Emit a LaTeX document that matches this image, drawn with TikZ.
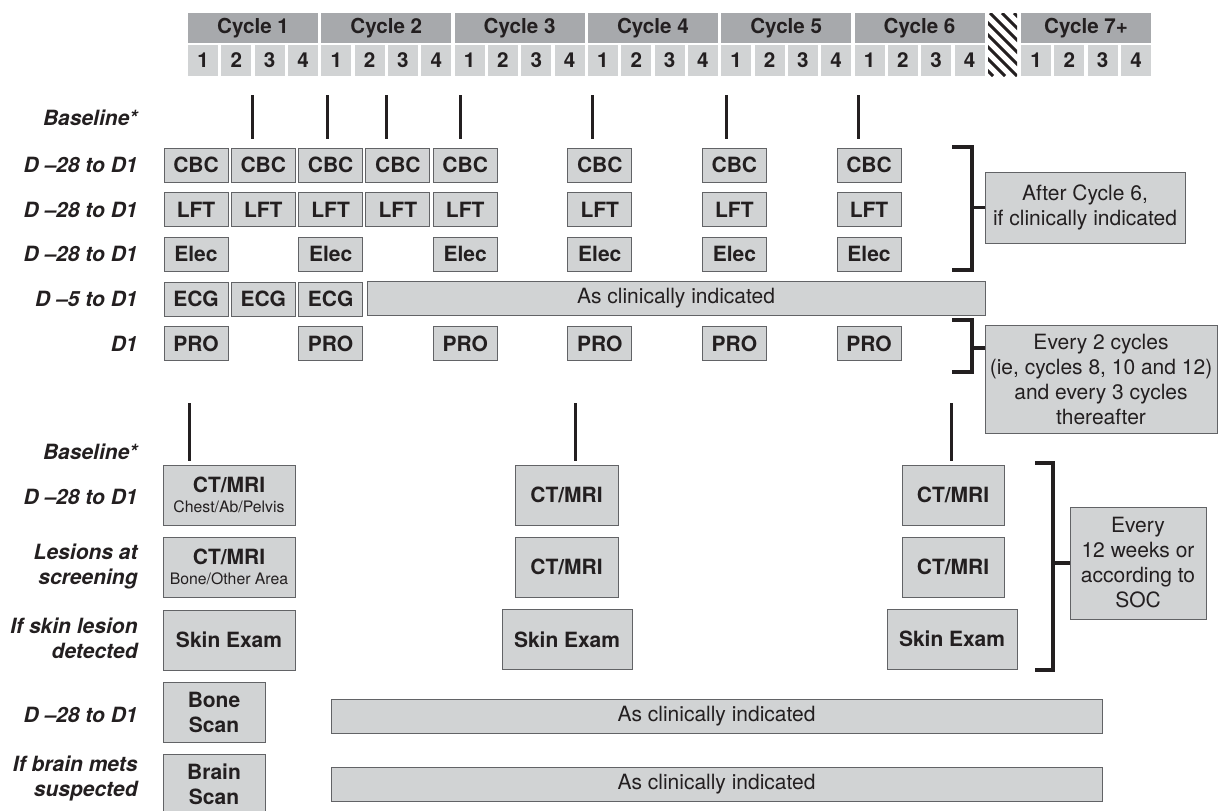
\documentclass[tikz,border=0pt]{standalone}
\usepackage{fontspec}
\setmainfont{TeX Gyre Heros}
\usetikzlibrary{positioning}

\definecolor{hdrgray}{HTML}{A7A9AC}
\definecolor{wkgray}{HTML}{D1D3D4}
\definecolor{boxline}{HTML}{626366}
\definecolor{ink}{HTML}{231F20}

\tikzset{
  cyc/.style={rectangle, fill=hdrgray, minimum width=65pt, minimum height=15pt, inner sep=0pt, font=\bfseries\fontsize{10.3}{12}\selectfont},
  wk/.style={rectangle, fill=wkgray, minimum width=15pt, minimum height=15.5pt, inner sep=0pt, font=\bfseries\fontsize{10.3}{12}\selectfont},
  task/.style={rectangle, draw=boxline, fill=wkgray, line width=0.5pt, minimum width=32pt, minimum height=17pt, inner sep=0pt, align=center, font=\bfseries\fontsize{10.5}{12.5}\selectfont},
  bigtask/.style={task, minimum height=30pt},
  note/.style={task, font=\fontsize{10.5}{12.5}\selectfont},
  rowlabel/.style={anchor=east, align=right, inner sep=0pt, font=\bfseries\itshape\fontsize{10.5}{12.5}\selectfont},
  tick/.style={line width=1.5pt, draw=ink},
  brace/.style={line width=1.8pt, draw=ink},
  small/.style={}
}
\newcommand{\subtxt}[1]{{\mdseries\fontsize{7.9}{9}\selectfont #1}}

\begin{document}
\begin{tikzpicture}[x=0.5pt, y=-0.5pt, node distance=22.35pt and 33.65pt, on grid, every node/.append style={text=ink}]

    \useasboundingbox (0,0) rectangle (1219,810);

    % header
    \node[cyc] (C1) at (253,28) {Cycle 1};
    \node[cyc] (C2) [right=66.65pt of C1] {Cycle 2};
    \node[cyc] (C3) [right=66.65pt of C2] {Cycle 3};
    \node[cyc] (C4) [right=66.65pt of C3] {Cycle 4};
    \node[cyc] (C5) [right=66.65pt of C4] {Cycle 5};
    \node[cyc] (C6) [right=66.65pt of C5] {Cycle 6};
    \node[cyc] (C7) at (1086,28) {Cycle 7+};

    \foreach \c in {1,...,6}
      \foreach \w in {1,...,4}
        \node[wk] (W\c-\w) at ({203+133.3*(\c-1)+33.33*(\w-1)},60.5) {\w};
    \foreach \w in {1,...,4}
      \node[wk] (W7-\w) at ({1036+33.33*(\w-1)},60.5) {\w};

    \begin{scope}
      \clip (988,13) rectangle (1017,76);
      \foreach \s in {-70,-58,...,30}
        \draw[line width=1.5pt, ink] ({988+\s},13) -- ++(63,63);
    \end{scope}

    % row labels, upper part
    \node[rowlabel] (L0) at (138,118) {Baseline*};
    \node[rowlabel] (L1) at (138,165) {D --28 to D1};
    \node[rowlabel] (L2) at (138,210) {D --28 to D1};
    \node[rowlabel] (L3) at (138,254) {D --28 to D1};
    \node[rowlabel] (L4) at (138,299) {D --5 to D1};
    \node[rowlabel] (L5) at (138,344) {D1};

    \foreach \x [count=\i] in {252,327,386,460,592,726,858} {
      \coordinate (top\i) at (\x,95);
      \coordinate (bot\i) at (\x,139);
      \draw[tick] (top\i) -- (bot\i);
    }

    % labs
    \node[task] (CBC1) at (196,165)               {CBC};
    \node[task] (CBC2) [right=of CBC1]            {CBC};
    \node[task] (CBC3) [right=of CBC2]            {CBC};
    \node[task] (CBC4) [right=of CBC3]            {CBC};
    \node[task] (CBC5) [right=of CBC4]            {CBC};
    \node[task] (CBC6) [right=67.3pt of CBC5]     {CBC};
    \node[task] (CBC7) [right=67.3pt of CBC6]     {CBC};
    \node[task] (CBC8) [right=67.3pt of CBC7]     {CBC};

    \node[task] (LFT1) [below=of CBC1] {LFT};
    \node[task] (LFT2) [below=of CBC2] {LFT};
    \node[task] (LFT3) [below=of CBC3] {LFT};
    \node[task] (LFT4) [below=of CBC4] {LFT};
    \node[task] (LFT5) [below=of CBC5] {LFT};
    \node[task] (LFT6) [below=of CBC6] {LFT};
    \node[task] (LFT7) [below=of CBC7] {LFT};
    \node[task] (LFT8) [below=of CBC8] {LFT};

    \node[task] (Elec1) [below=of LFT1] {Elec};
    \node[task] (Elec3) [below=of LFT3] {Elec};
    \node[task] (Elec5) [below=of LFT5] {Elec};
    \node[task] (Elec6) [below=of LFT6] {Elec};
    \node[task] (Elec7) [below=of LFT7] {Elec};
    \node[task] (Elec8) [below=of LFT8] {Elec};

    \node[task] (ECG1) [below=of Elec1]        {ECG};
    \node[task] (ECG2) [below=44.7pt of LFT2]  {ECG};
    \node[task] (ECG3) [below=of Elec3]        {ECG};
    \node[note, minimum width=309pt, minimum height=17pt] (ECGbar) at (676,298.5) {As clinically indicated};

    \node[task] (PRO1) [below=of ECG1]          {PRO};
    \node[task] (PRO3) [below=of ECG3]          {PRO};
    \node[task] (PRO5) [below=44.7pt of Elec5]  {PRO};
    \node[task] (PRO6) [below=44.7pt of Elec6]  {PRO};
    \node[task] (PRO7) [below=44.7pt of Elec7]  {PRO};
    \node[task] (PRO8) [below=44.7pt of Elec8]  {PRO};

    % notes on the right, upper part
    \node[note, minimum width=100pt, minimum height=35.5pt] (After) at (1085,207.5) {After Cycle 6,\\if clinically indicated};
    \node[note, minimum width=116pt, minimum height=54pt] (Every2) at (1101,379) {Every 2 cycles\\(ie, cycles 8, 10 and 12)\\and every 3 cycles\\thereafter};

    \coordinate (B1a) at (952,147);
    \coordinate (B1b) at (952,270);
    \draw[brace] (B1a) -- (972,147) -- (972,270) -- (B1b);
    \draw[brace] (After.west) -- ++(-13,0);

    \coordinate (B2a) at (952,320);
    \coordinate (B2b) at (952,372);
    \coordinate (S2) at (972,348);
    \draw[brace] (B2a) -- (972,320) -- (972,372) -- (B2b);
    \draw[brace] (S2) -- (S2 -| Every2.west);

    % row labels, lower part
    \node[rowlabel] (M0) at (138,452) {Baseline*};
    \node[rowlabel] (M1) at (138,497) {D --28 to D1};
    \node[rowlabel] (M2) at (138,566) {Lesions at\\screening};
    \node[rowlabel] (M3) at (138,638) {If skin lesion\\detected};
    \node[rowlabel] (M4) at (138,715) {D --28 to D1};
    \node[rowlabel] (M5) at (138,778) {If brain mets\\suspected};

    \foreach \x [count=\i] in {189,575,951} {
      \coordinate (ltop\i) at (\x,403);
      \coordinate (lbot\i) at (\x,461);
      \draw[tick] (ltop\i) -- (lbot\i);
    }

    % imaging
    \node[bigtask, minimum width=66pt] (CTa1) at (229,495) {CT/MRI\\[-2.5pt]\subtxt{Chest/Ab/Pelvis}};
    \node[bigtask, minimum width=66pt] (CTb1) at (229,567) {CT/MRI\\[-2.5pt]\subtxt{Bone/Other Area}};
    \node[bigtask, minimum width=66pt] (Skin1) at (229,640) {Skin Exam};
    \node[bigtask, minimum width=51pt] (Bone) at (214,712) {Bone\\Scan};
    \node[bigtask, minimum width=51pt] (Brain) at (214,784) {Brain\\Scan};

    \node[bigtask, minimum width=51.5pt] (CTa2) at (566.5,495) {CT/MRI};
    \node[bigtask, minimum width=51.5pt] (CTb2) at (566.5,567) {CT/MRI};
    \node[bigtask, minimum width=65pt] (Skin2) at (567,639.5) {Skin Exam};

    \node[bigtask, minimum width=51pt] (CTa3) at (953,495) {CT/MRI};
    \node[bigtask, minimum width=51pt] (CTb3) at (953,567) {CT/MRI};
    \node[bigtask, minimum width=65pt] (Skin3) at (952,639) {Skin Exam};

    \node[note, minimum width=385.5pt] (Bar1) at (716.5,716) {As clinically indicated};
    \node[note, minimum width=385.5pt] (Bar2) at (716.5,784) {As clinically indicated};

    \node[note, minimum width=68pt, minimum height=56pt] (Every12) at (1138,563) {Every\\12 weeks or\\according to\\SOC};

    \coordinate (B3a) at (1035,463);
    \coordinate (B3b) at (1035,670);
    \draw[brace] (B3a) -- (1053,463) -- (1053,670) -- (B3b);
    \draw[brace] (Every12.west) -- ++(-17,0);

\end{tikzpicture}
\end{document}
